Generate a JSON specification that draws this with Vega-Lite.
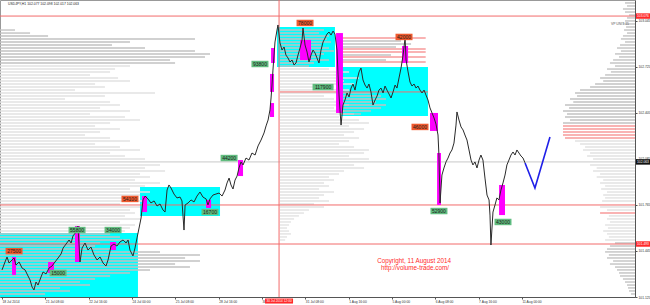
{
"$schema":"https://vega.github.io/schema/vega-lite/v6.json",
"width":635,"height":297,
"autosize":{"type":"none"},
"padding":{"left":0,"top":0,"right":15,"bottom":8},
"background":"white",
"config":{"view":{"stroke":"#999","strokeWidth":1}},
"datasets":{
"box":[{"a":-1.5,"b":100.4,"p1":101.569,"p2":101.125},{"a":101.9,"b":161,"p1":101.889,"p2":101.688},{"a":203.1,"b":245.9,"p1":103.0,"p2":102.722},{"a":250.4,"b":314.6,"p1":102.722,"p2":102.382}],
"mag":[{"a":7.4,"b":10.3,"p1":101.403,"p2":101.278},{"a":34,"b":38.4,"p1":101.368,"p2":101.292},{"a":53.9,"b":57.6,"p1":101.618,"p2":101.368},{"a":79.8,"b":84.2,"p1":101.507,"p2":101.451},{"a":103.4,"b":107.1,"p1":101.826,"p2":101.715},{"a":150.7,"b":154.4,"p1":101.799,"p2":101.743},{"a":174.3,"b":178,"p1":102.076,"p2":101.965},{"a":197.9,"b":200.9,"p1":102.472,"p2":102.375},{"a":197.9,"b":200.9,"p1":102.674,"p2":102.549},{"a":198.7,"b":201.6,"p1":102.854,"p2":102.75},{"a":220.1,"b":228.2,"p1":102.91,"p2":102.771},{"a":246.7,"b":251.8,"p1":102.958,"p2":102.403},{"a":295.4,"b":299.9,"p1":102.868,"p2":102.75},{"a":316.1,"b":322,"p1":102.403,"p2":102.278},{"a":321.3,"b":324.2,"p1":102.125,"p2":101.764},{"a":367.1,"b":371.5,"p1":101.903,"p2":101.694}],
"lv":[{"a":-1.5,"b":467.5,"p":103.076,"k":"R"},{"a":-1.5,"b":467.5,"p":101.764,"k":"R"},{"a":-1.5,"b":467.5,"p":101.493,"k":"R"},{"a":205.3,"b":314.6,"p":102.549,"k":"R"},{"a":-1.5,"b":467.5,"p":102.063,"k":"G"}],
"cross":[{"h":204.6,"t":"30 Jul 2014 12:00"}],
"prof":[
{"p":102.979,"a":-1.5,"b":9.6,"k":"d"},{"p":102.958,"a":-1.5,"b":20.7,"k":"d"},{"p":102.938,"a":-1.5,"b":34,"k":"d"},{"p":102.917,"a":-1.5,"b":142.5,"k":"d"},{"p":102.896,"a":-1.5,"b":94.5,"k":"d"},{"p":102.875,"a":-1.5,"b":81.2,"k":"d"},{"p":102.854,"a":-1.5,"b":105.6,"k":"d"},{"p":102.833,"a":-1.5,"b":142.5,"k":"d"},{"p":102.813,"a":-1.5,"b":153.6,"k":"d"},{"p":102.792,"a":-1.5,"b":149.9,"k":"d"},{"p":102.771,"a":-1.5,"b":124.1,"k":"d"},{"p":102.75,"a":-1.5,"b":127.8,"k":"d"},
{"p":102.729,"a":-1.5,"b":94.5,"k":"l"},{"p":102.708,"a":-1.5,"b":83.5,"k":"l"},{"p":102.688,"a":-1.5,"b":79.8,"k":"l"},{"p":102.667,"a":-1.5,"b":65,"k":"l"},{"p":102.646,"a":-1.5,"b":85.7,"k":"l"},{"p":102.625,"a":-1.5,"b":94.5,"k":"l"},{"p":102.604,"a":-1.5,"b":68.7,"k":"l"},{"p":102.583,"a":-1.5,"b":76,"k":"l"},{"p":102.563,"a":-1.5,"b":53.9,"k":"l"},{"p":102.542,"a":-1.5,"b":113,"k":"l"},{"p":102.521,"a":-1.5,"b":76,"k":"l"},{"p":102.5,"a":-1.5,"b":46.5,"k":"l"},{"p":102.479,"a":-1.5,"b":79.8,"k":"l"},{"p":102.458,"a":-1.5,"b":87.1,"k":"l"},{"p":102.438,"a":-1.5,"b":72.4,"k":"l"},{"p":102.417,"a":-1.5,"b":94.5,"k":"l"},{"p":102.396,"a":-1.5,"b":65,"k":"l"},{"p":102.375,"a":-1.5,"b":90.8,"k":"l"},{"p":102.354,"a":-1.5,"b":101.9,"k":"l"},{"p":102.333,"a":-1.5,"b":79.8,"k":"l"},{"p":102.313,"a":-1.5,"b":68.7,"k":"l"},{"p":102.292,"a":-1.5,"b":87.1,"k":"l"},{"p":102.271,"a":-1.5,"b":72.4,"k":"l"},{"p":102.25,"a":-1.5,"b":61.3,"k":"l"},{"p":102.229,"a":-1.5,"b":79.8,"k":"l"},{"p":102.208,"a":-1.5,"b":94.5,"k":"l"},{"p":102.188,"a":-1.5,"b":68.7,"k":"l"},{"p":102.167,"a":-1.5,"b":87.1,"k":"l"},{"p":102.146,"a":-1.5,"b":101.9,"k":"l"},{"p":102.125,"a":-1.5,"b":79.8,"k":"l"},{"p":102.104,"a":-1.5,"b":90.8,"k":"l"},{"p":102.083,"a":-1.5,"b":105.6,"k":"l"},{"p":102.042,"a":-1.5,"b":116.7,"k":"l"},{"p":102.021,"a":-1.5,"b":105.6,"k":"l"},{"p":102.0,"a":-1.5,"b":120.4,"k":"l"},{"p":101.979,"a":-1.5,"b":101.9,"k":"l"},{"p":101.958,"a":-1.5,"b":109.3,"k":"l"},{"p":101.938,"a":-1.5,"b":98.2,"k":"l"},{"p":101.917,"a":-1.5,"b":116.7,"k":"l"},{"p":101.896,"a":-1.5,"b":105.6,"k":"l"},{"p":101.875,"a":-1.5,"b":94.5,"k":"l"},{"p":101.854,"a":-1.5,"b":109.3,"k":"l"},{"p":101.833,"a":-1.5,"b":101.9,"k":"l"},{"p":101.813,"a":-1.5,"b":98.2,"k":"l"},{"p":101.792,"a":-1.5,"b":105.6,"k":"l"},{"p":101.771,"a":-1.5,"b":87.1,"k":"l"},{"p":101.75,"a":-1.5,"b":101.9,"k":"l"},{"p":101.729,"a":-1.5,"b":94.5,"k":"l"},{"p":101.708,"a":-1.5,"b":98.2,"k":"l"},{"p":101.688,"a":-1.5,"b":90.8,"k":"l"},{"p":101.667,"a":-1.5,"b":101.9,"k":"l"},{"p":101.646,"a":-1.5,"b":87.1,"k":"l"},{"p":101.625,"a":-1.5,"b":98.2,"k":"l"},{"p":101.604,"a":-1.5,"b":94.5,"k":"l"},{"p":101.583,"a":-1.5,"b":90.8,"k":"l"},
{"p":101.563,"a":-1.5,"b":79.8,"k":"d"},{"p":101.542,"a":-1.5,"b":87.1,"k":"d"},{"p":101.521,"a":-1.5,"b":94.5,"k":"d"},{"p":101.5,"a":-1.5,"b":72.4,"k":"d"},{"p":101.479,"a":-1.5,"b":68.7,"k":"d"},{"p":101.458,"a":-1.5,"b":83.5,"k":"d"},{"p":101.438,"a":-1.5,"b":116.7,"k":"d"},{"p":101.417,"a":-1.5,"b":146.2,"k":"d"},{"p":101.396,"a":-1.5,"b":135.2,"k":"d"},{"p":101.375,"a":-1.5,"b":146.2,"k":"d"},{"p":101.354,"a":-1.5,"b":127.8,"k":"d"},{"p":101.333,"a":-1.5,"b":138.8,"k":"d"},{"p":101.313,"a":-1.5,"b":109.3,"k":"d"},{"p":101.292,"a":-1.5,"b":94.5,"k":"d"},{"p":101.271,"a":-1.5,"b":79.8,"k":"d"},{"p":101.25,"a":-1.5,"b":68.7,"k":"d"},{"p":101.229,"a":-1.5,"b":57.6,"k":"d"},{"p":101.208,"a":-1.5,"b":65,"k":"d"},{"p":101.188,"a":-1.5,"b":42.8,"k":"d"},{"p":101.167,"a":-1.5,"b":50.2,"k":"d"},{"p":101.146,"a":-1.5,"b":31.8,"k":"d"},
{"p":102.979,"a":205.3,"b":237.8,"k":"d"},{"p":102.958,"a":205.3,"b":234.2,"k":"d"},{"p":102.938,"a":205.3,"b":241.5,"k":"d"},{"p":102.917,"a":205.3,"b":240,"k":"d"},{"p":102.896,"a":205.3,"b":243,"k":"d"},{"p":102.875,"a":205.3,"b":235.6,"k":"d"},{"p":102.854,"a":205.3,"b":241.5,"k":"d"},{"p":102.833,"a":205.3,"b":245.2,"k":"d"},{"p":102.813,"a":205.3,"b":237.8,"k":"d"},{"p":102.792,"a":205.3,"b":234.2,"k":"d"},{"p":102.771,"a":205.3,"b":241.5,"k":"d"},{"p":102.75,"a":205.3,"b":230.4,"k":"d"},{"p":102.729,"a":205.3,"b":226.7,"k":"d"},
{"p":102.708,"a":205.3,"b":241.5,"k":"l"},{"p":102.688,"a":205.3,"b":256.3,"k":"l"},{"p":102.667,"a":205.3,"b":248.9,"k":"l"},{"p":102.646,"a":205.3,"b":263.7,"k":"l"},{"p":102.625,"a":205.3,"b":252.6,"k":"l"},{"p":102.604,"a":205.3,"b":260,"k":"l"},{"p":102.583,"a":205.3,"b":245.2,"k":"l"},{"p":102.563,"a":205.3,"b":256.3,"k":"l"},{"p":102.542,"a":205.3,"b":248.9,"k":"l"},{"p":102.521,"a":205.3,"b":237.8,"k":"l"},{"p":102.5,"a":205.3,"b":245.2,"k":"l"},{"p":102.479,"a":205.3,"b":248.9,"k":"l"},{"p":102.458,"a":205.3,"b":256.3,"k":"l"},{"p":102.438,"a":205.3,"b":245.2,"k":"l"},{"p":102.417,"a":205.3,"b":252.6,"k":"l"},{"p":102.396,"a":205.3,"b":260,"k":"l"},{"p":102.375,"a":205.3,"b":248.9,"k":"l"},{"p":102.354,"a":205.3,"b":263.7,"k":"l"},{"p":102.333,"a":205.3,"b":271,"k":"l"},{"p":102.313,"a":205.3,"b":256.3,"k":"l"},{"p":102.292,"a":205.3,"b":267.4,"k":"l"},{"p":102.271,"a":205.3,"b":260,"k":"l"},{"p":102.25,"a":205.3,"b":252.6,"k":"l"},{"p":102.229,"a":205.3,"b":263.7,"k":"l"},{"p":102.208,"a":205.3,"b":256.3,"k":"l"},{"p":102.188,"a":205.3,"b":248.9,"k":"l"},{"p":102.167,"a":205.3,"b":260,"k":"l"},{"p":102.146,"a":205.3,"b":271,"k":"l"},{"p":102.125,"a":205.3,"b":267.4,"k":"l"},{"p":102.104,"a":205.3,"b":256.3,"k":"l"},{"p":102.083,"a":205.3,"b":271,"k":"l"},{"p":102.042,"a":205.3,"b":260,"k":"l"},{"p":102.021,"a":205.3,"b":267.4,"k":"l"},{"p":102.0,"a":205.3,"b":252.6,"k":"l"},{"p":101.979,"a":205.3,"b":248.9,"k":"l"},{"p":101.958,"a":205.3,"b":241.5,"k":"l"},{"p":101.938,"a":205.3,"b":245.2,"k":"l"},{"p":101.917,"a":205.3,"b":237.8,"k":"l"},{"p":101.896,"a":205.3,"b":241.5,"k":"l"},{"p":101.875,"a":205.3,"b":234.2,"k":"l"},{"p":101.854,"a":205.3,"b":245.2,"k":"l"},{"p":101.833,"a":205.3,"b":237.8,"k":"l"},{"p":101.813,"a":205.3,"b":234.2,"k":"l"},{"p":101.792,"a":205.3,"b":241.5,"k":"l"},{"p":101.771,"a":205.3,"b":230.4,"k":"l"},{"p":101.75,"a":205.3,"b":237.8,"k":"l"},{"p":101.729,"a":205.3,"b":226.7,"k":"l"},{"p":101.708,"a":205.3,"b":223,"k":"l"},{"p":101.688,"a":205.3,"b":219.3,"k":"l"},{"p":101.667,"a":205.3,"b":215.7,"k":"l"},{"p":101.646,"a":205.3,"b":213.4,"k":"l"},{"p":101.625,"a":205.3,"b":212,"k":"l"},{"p":101.604,"a":205.3,"b":210.5,"k":"l"},{"p":101.583,"a":205.3,"b":212,"k":"l"},{"p":101.563,"a":205.3,"b":213.4,"k":"l"},{"p":101.542,"a":205.3,"b":210.5,"k":"l"},{"p":101.521,"a":205.3,"b":209.1,"k":"l"},
{"p":102.924,"a":250.4,"b":312.9,"k":"r"},{"p":102.903,"a":250.4,"b":294.7,"k":"d"},{"p":102.882,"a":250.4,"b":302.1,"k":"d"},{"p":102.861,"a":250.4,"b":291,"k":"d"},{"p":102.847,"a":250.4,"b":312.9,"k":"r"},{"p":102.826,"a":250.4,"b":312.9,"k":"r"},{"p":102.806,"a":250.4,"b":287.3,"k":"d"},{"p":102.792,"a":250.4,"b":312.9,"k":"r"},{"p":102.771,"a":250.4,"b":283.6,"k":"d"},{"p":102.757,"a":250.4,"b":312.9,"k":"r"},
{"p":102.542,"a":250.4,"b":272.5,"k":"d"},{"p":102.521,"a":250.4,"b":279.9,"k":"d"},{"p":102.5,"a":250.4,"b":283.6,"k":"d"},{"p":102.479,"a":250.4,"b":276.2,"k":"d"},{"p":102.458,"a":250.4,"b":283.6,"k":"d"},{"p":102.438,"a":250.4,"b":279.9,"k":"d"},{"p":102.417,"a":250.4,"b":272.5,"k":"d"},{"p":102.396,"a":250.4,"b":265.1,"k":"d"},
{"p":103.167,"a":460.1,"b":467.5,"k":"d"},{"p":103.146,"a":461.6,"b":467.5,"k":"d"},{"p":103.125,"a":458.6,"b":467.5,"k":"d"},{"p":103.104,"a":460.1,"b":467.5,"k":"d"},{"p":103.083,"a":463.1,"b":467.5,"k":"d"},{"p":103.063,"a":461.6,"b":467.5,"k":"d"},{"p":103.042,"a":460.1,"b":467.5,"k":"d"},{"p":103.021,"a":458.6,"b":467.5,"k":"d"},{"p":103.0,"a":460.9,"b":467.5,"k":"d"},{"p":102.979,"a":459.4,"b":467.5,"k":"d"},{"p":102.958,"a":461.6,"b":467.5,"k":"d"},{"p":102.938,"a":458.6,"b":467.5,"k":"d"},{"p":102.917,"a":457.1,"b":467.5,"k":"d"},{"p":102.896,"a":460.1,"b":467.5,"k":"d"},{"p":102.875,"a":456.4,"b":467.5,"k":"d"},{"p":102.854,"a":454.2,"b":467.5,"k":"d"},{"p":102.833,"a":457.1,"b":467.5,"k":"d"},{"p":102.813,"a":452.7,"b":467.5,"k":"d"},{"p":102.792,"a":455.7,"b":467.5,"k":"d"},{"p":102.771,"a":451.3,"b":467.5,"k":"d"},{"p":102.75,"a":449,"b":467.5,"k":"d"},{"p":102.729,"a":452.7,"b":467.5,"k":"d"},{"p":102.708,"a":446.8,"b":467.5,"k":"d"},{"p":102.688,"a":449.7,"b":467.5,"k":"d"},{"p":102.667,"a":445.4,"b":467.5,"k":"d"},{"p":102.646,"a":441.7,"b":467.5,"k":"d"},{"p":102.625,"a":444,"b":467.5,"k":"d"},{"p":102.604,"a":438,"b":467.5,"k":"d"},{"p":102.583,"a":434.3,"b":467.5,"k":"d"},{"p":102.563,"a":426.9,"b":467.5,"k":"d"},{"p":102.542,"a":423.2,"b":467.5,"k":"d"},{"p":102.521,"a":424.7,"b":467.5,"k":"d"},{"p":102.5,"a":419.5,"b":467.5,"k":"d"},{"p":102.479,"a":421.9,"b":467.5,"k":"d"},{"p":102.458,"a":415.8,"b":467.5,"k":"d"},{"p":102.438,"a":418.8,"b":467.5,"k":"d"},{"p":102.417,"a":414.3,"b":467.5,"k":"d"},{"p":102.396,"a":417.3,"b":467.5,"k":"d"},{"p":102.375,"a":415.8,"b":467.5,"k":"d"},{"p":102.354,"a":419.5,"b":467.5,"k":"d"},{"p":102.333,"a":414.3,"b":467.5,"k":"d"},
{"p":102.313,"a":414.3,"b":467.5,"k":"r"},{"p":102.292,"a":414.3,"b":467.5,"k":"r"},{"p":102.271,"a":414.3,"b":467.5,"k":"r"},{"p":102.25,"a":414.3,"b":467.5,"k":"r"},{"p":102.229,"a":415.8,"b":467.5,"k":"r"},
{"p":102.208,"a":423.2,"b":467.5,"k":"l"},{"p":102.188,"a":426.9,"b":467.5,"k":"l"},{"p":102.167,"a":430.6,"b":467.5,"k":"l"},{"p":102.146,"a":429.1,"b":467.5,"k":"l"},{"p":102.125,"a":434.3,"b":467.5,"k":"l"},{"p":102.104,"a":432.1,"b":467.5,"k":"l"},{"p":102.083,"a":436.5,"b":467.5,"k":"l"},{"p":102.042,"a":434.3,"b":467.5,"k":"l"},{"p":102.021,"a":439.2,"b":467.5,"k":"l"},{"p":102.0,"a":436.5,"b":467.5,"k":"l"},{"p":101.979,"a":441.7,"b":467.5,"k":"l"},{"p":101.958,"a":439.2,"b":467.5,"k":"l"},{"p":101.938,"a":444,"b":467.5,"k":"l"},{"p":101.917,"a":441.7,"b":467.5,"k":"l"},{"p":101.896,"a":445.4,"b":467.5,"k":"l"},{"p":101.875,"a":442.5,"b":467.5,"k":"l"},{"p":101.854,"a":446.8,"b":467.5,"k":"l"},{"p":101.833,"a":444,"b":467.5,"k":"l"},{"p":101.813,"a":445.4,"b":467.5,"k":"l"},{"p":101.792,"a":443.2,"b":467.5,"k":"l"},{"p":101.75,"a":441.7,"b":467.5,"k":"l"},{"p":101.729,"a":446.8,"b":467.5,"k":"l"},{"p":101.708,"a":441.7,"b":467.5,"k":"r"},{"p":101.688,"a":448.2,"b":467.5,"k":"l"},{"p":101.667,"a":446.8,"b":467.5,"k":"l"},{"p":101.646,"a":449,"b":467.5,"k":"l"},{"p":101.625,"a":445.4,"b":467.5,"k":"l"},{"p":101.604,"a":447.5,"b":467.5,"k":"l"},{"p":101.583,"a":444,"b":467.5,"k":"l"},{"p":101.563,"a":446.8,"b":467.5,"k":"l"},{"p":101.542,"a":448.2,"b":467.5,"k":"l"},{"p":101.521,"a":445.4,"b":467.5,"k":"l"},
{"p":101.5,"a":452.7,"b":467.5,"k":"d"},{"p":101.479,"a":449,"b":467.5,"k":"d"},{"p":101.458,"a":446.8,"b":467.5,"k":"d"},{"p":101.438,"a":445.4,"b":467.5,"k":"d"},{"p":101.417,"a":448.2,"b":467.5,"k":"d"},{"p":101.396,"a":446.8,"b":467.5,"k":"d"},{"p":101.375,"a":451.3,"b":467.5,"k":"d"},{"p":101.354,"a":449,"b":467.5,"k":"d"},{"p":101.333,"a":452.7,"b":467.5,"k":"d"},{"p":101.313,"a":454.2,"b":467.5,"k":"d"},{"p":101.292,"a":455.7,"b":467.5,"k":"d"},{"p":101.271,"a":456.4,"b":467.5,"k":"d"},{"p":101.25,"a":458.6,"b":467.5,"k":"d"},{"p":101.229,"a":460.1,"b":467.5,"k":"d"},{"p":101.208,"a":461.6,"b":467.5,"k":"d"},{"p":101.188,"a":462.3,"b":467.5,"k":"d"},{"p":101.167,"a":463.1,"b":467.5,"k":"d"},{"p":101.146,"a":464.5,"b":467.5,"k":"d"}
],
"px":[{"h":0,"p":101.313},{"h":2.2,"p":101.368},{"h":3.7,"p":101.403},{"h":5.2,"p":101.361},{"h":7.4,"p":101.382},{"h":8.9,"p":101.396},{"h":10.3,"p":101.347},{"h":12.6,"p":101.368},{"h":14.8,"p":101.326},{"h":17,"p":101.313},{"h":19.2,"p":101.271},{"h":20.7,"p":101.243},{"h":22.2,"p":101.194},{"h":23.6,"p":101.174},{"h":25.1,"p":101.229},{"h":26.6,"p":101.208},{"h":28.8,"p":101.264},{"h":30.3,"p":101.299},{"h":32.5,"p":101.285},{"h":34.7,"p":101.326},{"h":36.9,"p":101.34},{"h":39.1,"p":101.368},{"h":41.4,"p":101.396},{"h":43.6,"p":101.424},{"h":45.1,"p":101.465},{"h":47.3,"p":101.493},{"h":49.5,"p":101.521},{"h":51,"p":101.5},{"h":52.4,"p":101.549},{"h":54.7,"p":101.576},{"h":56.1,"p":101.618},{"h":57.6,"p":101.368},{"h":59.1,"p":101.465},{"h":61.3,"p":101.5},{"h":63.5,"p":101.451},{"h":65.7,"p":101.472},{"h":67.9,"p":101.417},{"h":70.2,"p":101.382},{"h":72.4,"p":101.403},{"h":74.6,"p":101.361},{"h":76.8,"p":101.34},{"h":78.3,"p":101.382},{"h":80.5,"p":101.479},{"h":82.7,"p":101.493},{"h":84.9,"p":101.479},{"h":87.1,"p":101.507},{"h":89.4,"p":101.521},{"h":91.6,"p":101.5},{"h":93.1,"p":101.521},{"h":94.5,"p":101.451},{"h":96.7,"p":101.41},{"h":98.2,"p":101.465},{"h":99.7,"p":101.535},{"h":101.2,"p":101.604},{"h":102.7,"p":101.674},{"h":104.1,"p":101.799},{"h":105.6,"p":101.826},{"h":107.8,"p":101.806},{"h":110,"p":101.778},{"h":112.3,"p":101.792},{"h":114.5,"p":101.757},{"h":116.7,"p":101.771},{"h":118.9,"p":101.729},{"h":120.4,"p":101.715},{"h":121.9,"p":101.868},{"h":123.3,"p":101.903},{"h":124.8,"p":101.882},{"h":127,"p":101.84},{"h":129.2,"p":101.813},{"h":131.5,"p":101.819},{"h":132.9,"p":101.792},{"h":134.4,"p":101.59},{"h":135.2,"p":101.764},{"h":137.4,"p":101.778},{"h":139.6,"p":101.799},{"h":141.8,"p":101.785},{"h":144,"p":101.826},{"h":146.2,"p":101.854},{"h":148.4,"p":101.819},{"h":150.7,"p":101.806},{"h":152.1,"p":101.764},{"h":153.6,"p":101.806},{"h":155.8,"p":101.833},{"h":158,"p":101.84},{"h":160.3,"p":101.847},{"h":162.5,"p":101.826},{"h":164.7,"p":101.868},{"h":166.2,"p":101.917},{"h":167.7,"p":101.951},{"h":169.1,"p":101.903},{"h":170.6,"p":101.875},{"h":172.1,"p":101.937},{"h":173.6,"p":101.965},{"h":175,"p":102.021},{"h":176.5,"p":102.063},{"h":178,"p":102.042},{"h":180.2,"p":102.09},{"h":182.4,"p":102.076},{"h":184.6,"p":102.125},{"h":186.9,"p":102.111},{"h":189.1,"p":102.174},{"h":191.3,"p":102.215},{"h":193.5,"p":102.264},{"h":195,"p":102.313},{"h":196.5,"p":102.354},{"h":197.9,"p":102.424},{"h":198.7,"p":102.507},{"h":199.4,"p":102.597},{"h":200.1,"p":102.701},{"h":200.9,"p":102.805},{"h":201.6,"p":102.896},{"h":203.1,"p":102.979},{"h":203.8,"p":103.014},{"h":205.3,"p":102.889},{"h":206.8,"p":102.84},{"h":208.3,"p":102.861},{"h":209.7,"p":102.805},{"h":211.2,"p":102.785},{"h":212.7,"p":102.757},{"h":214.2,"p":102.771},{"h":215.7,"p":102.736},{"h":217.1,"p":102.75},{"h":218.6,"p":102.805},{"h":220.1,"p":102.854},{"h":221.6,"p":102.91},{"h":222.3,"p":102.993},{"h":223.8,"p":102.875},{"h":225.3,"p":102.826},{"h":226.7,"p":102.757},{"h":228.2,"p":102.805},{"h":229.7,"p":102.84},{"h":231.2,"p":102.819},{"h":232.6,"p":102.785},{"h":234.1,"p":102.75},{"h":235.6,"p":102.84},{"h":237.1,"p":102.896},{"h":238.6,"p":102.924},{"h":240,"p":102.951},{"h":241.5,"p":102.965},{"h":243,"p":102.944},{"h":244.5,"p":102.972},{"h":245.9,"p":102.951},{"h":247.4,"p":102.84},{"h":248.2,"p":102.667},{"h":248.9,"p":102.528},{"h":249.6,"p":102.424},{"h":250.4,"p":102.319},{"h":251.8,"p":102.458},{"h":253.3,"p":102.493},{"h":254.8,"p":102.542},{"h":256.3,"p":102.514},{"h":257.8,"p":102.576},{"h":259.2,"p":102.604},{"h":260.7,"p":102.562},{"h":262.2,"p":102.632},{"h":263.7,"p":102.688},{"h":265.1,"p":102.715},{"h":266.6,"p":102.632},{"h":268.1,"p":102.597},{"h":269.6,"p":102.576},{"h":271,"p":102.604},{"h":272.5,"p":102.549},{"h":274,"p":102.458},{"h":275.5,"p":102.493},{"h":277,"p":102.521},{"h":278.4,"p":102.562},{"h":279.9,"p":102.576},{"h":281.4,"p":102.542},{"h":282.9,"p":102.59},{"h":284.3,"p":102.562},{"h":285.8,"p":102.535},{"h":287.3,"p":102.507},{"h":288.8,"p":102.549},{"h":290.3,"p":102.597},{"h":291.7,"p":102.576},{"h":293.2,"p":102.646},{"h":294.7,"p":102.715},{"h":296.2,"p":102.805},{"h":297.7,"p":102.924},{"h":298.4,"p":102.771},{"h":299.9,"p":102.688},{"h":301.3,"p":102.618},{"h":302.8,"p":102.59},{"h":304.3,"p":102.604},{"h":305.8,"p":102.576},{"h":307.2,"p":102.59},{"h":308.7,"p":102.562},{"h":310.2,"p":102.542},{"h":311.7,"p":102.562},{"h":313.1,"p":102.528},{"h":314.6,"p":102.493},{"h":316.1,"p":102.438},{"h":317.6,"p":102.403},{"h":319.1,"p":102.368},{"h":320.5,"p":102.326},{"h":322,"p":102.25},{"h":322.7,"p":102.111},{"h":323.5,"p":101.778},{"h":324.9,"p":101.972},{"h":326.4,"p":102.021},{"h":327.9,"p":102.063},{"h":329.4,"p":102.09},{"h":330.9,"p":102.125},{"h":332.3,"p":102.146},{"h":333.8,"p":102.194},{"h":335.3,"p":102.319},{"h":336,"p":102.41},{"h":337.5,"p":102.354},{"h":339,"p":102.306},{"h":340.5,"p":102.285},{"h":341.9,"p":102.25},{"h":343.4,"p":102.215},{"h":344.9,"p":102.146},{"h":346.4,"p":102.076},{"h":347.8,"p":102.042},{"h":349.3,"p":102.063},{"h":350.8,"p":102.021},{"h":352.3,"p":102.076},{"h":353.7,"p":102.111},{"h":355.2,"p":102.076},{"h":356.7,"p":101.951},{"h":358.2,"p":101.833},{"h":359.7,"p":101.799},{"h":360.4,"p":101.694},{"h":361.1,"p":101.486},{"h":362.6,"p":101.715},{"h":364.1,"p":101.764},{"h":365.5,"p":101.813},{"h":367,"p":101.799},{"h":368.5,"p":101.868},{"h":370,"p":101.917},{"h":371.5,"p":101.972},{"h":372.9,"p":102.042},{"h":374.4,"p":102.076},{"h":375.9,"p":102.111},{"h":377.4,"p":102.132},{"h":378.9,"p":102.111},{"h":380.3,"p":102.146},{"h":381.8,"p":102.125},{"h":383.3,"p":102.104},{"h":384.8,"p":102.09},{"h":386.3,"p":102.056}],
"proj":[{"h":386.3,"p":102.056},{"h":393.6,"p":101.882},{"h":404.7,"p":102.236}],
"lab":[{"h":8.9,"p":101.444,"t":"27500","k":"dn"},{"h":55.4,"p":101.59,"t":"55800","k":"up"},{"h":82,"p":101.59,"t":"34000","k":"up"},{"h":41.4,"p":101.292,"t":"15000","k":"up"},{"h":94.5,"p":101.806,"t":"54100","k":"dn"},{"h":153.6,"p":101.715,"t":"16700","k":"up"},{"h":167.7,"p":102.09,"t":"44200","k":"up"},{"h":190.5,"p":102.743,"t":"93800","k":"up"},{"h":237.1,"p":102.583,"t":"117900","k":"up"},{"h":223.8,"p":103.028,"t":"78000","k":"dn"},{"h":296.9,"p":102.931,"t":"42000","k":"dn"},{"h":308.7,"p":102.306,"t":"46000","k":"dn"},{"h":322.7,"p":101.722,"t":"52900","k":"up"},{"h":370,"p":101.646,"t":"43000","k":"up"}],
"ax":[{"p":103.076,"t":"103.076","k":"r"},{"p":102.063,"t":"102.063","k":"b"},{"p":101.493,"t":"101.493","k":"r"}],
"note":[{"h":304.3,"p":101.375,"t":"Copyright, 11 August 2014"},{"h":305,"p":101.326,"t":"http://volume-trade.com/"}],
"head":[{"h":4.4,"p":103.16,"t":"USDJPY,H1  102.077 102.098 102.017 102.063"}],
"vp":[{"h":463,"p":103.021,"t":"VP UNIT 15"}]
},
"layer":[
{"data":{"name":"box"},"mark":{"type":"rect","color":"#00ffff"},
 "encoding":{
  "x":{"field":"a","type":"quantitative","title":null,"scale":{"domain":[-1.5,467.5],"nice":false,"zero":false},
   "axis":{"values":[0,16,32,48,64,80,96,112,128,144,160,176,192,208,224,240,256,272,288,304,320,336,352,368,384],
    "labelExpr":"['18 Jul 2014','18 Jul 16:00','21 Jul 08:00','22 Jul 00:00','22 Jul 16:00','23 Jul 08:00','24 Jul 00:00','24 Jul 16:00','25 Jul 08:00','28 Jul 00:00','28 Jul 16:00','29 Jul 08:00','30 Jul 00:00','30 Jul 16:00','31 Jul 08:00','1 Aug 00:00','1 Aug 16:00','4 Aug 08:00','5 Aug 00:00','5 Aug 16:00','6 Aug 08:00','7 Aug 00:00','7 Aug 16:00','8 Aug 08:00','11 Aug 00:00'][round(datum.value/16)]",
    "labelFont":"Liberation Sans","labelFontSize":3.3,"labelColor":"#333","labelAlign":"left","labelBaseline":"top","labelPadding":0.5,"tickSize":2,"tickColor":"#555","domainColor":"#555","grid":false,"labelOverlap":false,"labelFlush":false,"labelBound":false}},
  "x2":{"field":"b"},
  "y":{"field":"p1","type":"quantitative","title":null,"scale":{"domain":[101.125,103.1875],"nice":false,"zero":false},
   "axis":{"orient":"right","values":[101.125,101.205,101.285,101.365,101.445,101.525,101.605,101.685,101.765,101.845,101.925,102.005,102.085,102.165,102.245,102.325,102.405,102.485,102.565,102.645,102.725,102.805,102.885,102.965,103.045,103.125],
    "format":".3f","labelFont":"Liberation Sans","labelFontSize":3.3,"labelColor":"#333","labelAlign":"left","labelPadding":1,"tickSize":2,"tickColor":"#555","domainColor":"#555","grid":false,"labelOverlap":false,"labelFlush":false,"labelBound":false}},
  "y2":{"field":"p2"}}},
{"data":{"name":"prof"},"mark":{"type":"rule","strokeWidth":1.4},
 "encoding":{"x":{"field":"a","type":"quantitative","title":null,"scale":{"domain":[-1.5,467.5],"nice":false,"zero":false}},"x2":{"field":"b"},
  "y":{"field":"p","type":"quantitative","title":null,"scale":{"domain":[101.125,103.1875],"nice":false,"zero":false}},
  "color":{"condition":[{"test":"datum.k=='d'","value":"#c2c2c2"},{"test":"datum.k=='r'","value":"#f79a9a"}],"value":"#e2e2e2"}}},
{"data":{"name":"lv"},"mark":{"type":"rule","strokeWidth":1},
 "encoding":{"x":{"field":"a","type":"quantitative","title":null,"scale":{"domain":[-1.5,467.5],"nice":false,"zero":false}},"x2":{"field":"b"},
  "y":{"field":"p","type":"quantitative","title":null,"scale":{"domain":[101.125,103.1875],"nice":false,"zero":false}},
  "color":{"condition":{"test":"datum.k=='G'","value":"#c8c8c8"},"value":"#f26b6b"}}},
{"data":{"name":"cross"},"mark":{"type":"rule","strokeWidth":1,"color":"#f26b6b"},
 "encoding":{"x":{"field":"h","type":"quantitative","title":null,"scale":{"domain":[-1.5,467.5],"nice":false,"zero":false}}}},
{"data":{"name":"mag"},"mark":{"type":"rect","color":"#ff00ff"},
 "encoding":{"x":{"field":"a","type":"quantitative","title":null,"scale":{"domain":[-1.5,467.5],"nice":false,"zero":false}},"x2":{"field":"b"},
  "y":{"field":"p1","type":"quantitative","title":null,"scale":{"domain":[101.125,103.1875],"nice":false,"zero":false}},"y2":{"field":"p2"}}},
{"data":{"name":"px"},"mark":{"type":"line","color":"#2a2a2a","strokeWidth":1},
 "encoding":{"x":{"field":"h","type":"quantitative","title":null,"scale":{"domain":[-1.5,467.5],"nice":false,"zero":false}},
  "y":{"field":"p","type":"quantitative","title":null,"scale":{"domain":[101.125,103.1875],"nice":false,"zero":false}}}},
{"data":{"name":"proj"},"mark":{"type":"line","color":"#2020e8","strokeWidth":1.6},
 "encoding":{"x":{"field":"h","type":"quantitative","title":null,"scale":{"domain":[-1.5,467.5],"nice":false,"zero":false}},
  "y":{"field":"p","type":"quantitative","title":null,"scale":{"domain":[101.125,103.1875],"nice":false,"zero":false}}}},
{"data":{"name":"lab"},"mark":{"type":"point","filled":true,"opacity":1,"strokeWidth":0},
 "encoding":{"x":{"field":"h","type":"quantitative","title":null,"scale":{"domain":[-1.5,467.5],"nice":false,"zero":false}},
  "y":{"field":"p","type":"quantitative","title":null,"scale":{"domain":[101.125,103.1875],"nice":false,"zero":false}},
  "shape":{"condition":{"test":"length(datum.t)>5","value":"M-1,-0.31H1V0.31H-1Z"},"value":"M-1,-0.38H1V0.38H-1Z"},
  "size":{"condition":{"test":"length(datum.t)>5","value":441},"value":289},
  "color":{"condition":{"test":"datum.k=='dn'","value":"#ef5a2f"},"value":"#62bd80"}}},
{"data":{"name":"lab"},"mark":{"type":"text","font":"Liberation Sans","fontSize":5,"color":"#1a1a1a","align":"center","baseline":"middle"},
 "encoding":{"x":{"field":"h","type":"quantitative","title":null,"scale":{"domain":[-1.5,467.5],"nice":false,"zero":false}},
  "y":{"field":"p","type":"quantitative","title":null,"scale":{"domain":[101.125,103.1875],"nice":false,"zero":false}},
  "text":{"field":"t"}}},
{"data":{"name":"note"},"mark":{"type":"text","font":"Liberation Sans","fontSize":6.3,"color":"#ff2b2b","align":"center","baseline":"middle"},
 "encoding":{"x":{"field":"h","type":"quantitative","title":null,"scale":{"domain":[-1.5,467.5],"nice":false,"zero":false}},
  "y":{"field":"p","type":"quantitative","title":null,"scale":{"domain":[101.125,103.1875],"nice":false,"zero":false}},
  "text":{"field":"t"}}},
{"data":{"name":"head"},"mark":{"type":"text","font":"Liberation Sans","fontSize":3.4,"color":"#222","align":"left","baseline":"middle"},
 "encoding":{"x":{"field":"h","type":"quantitative","title":null,"scale":{"domain":[-1.5,467.5],"nice":false,"zero":false}},
  "y":{"field":"p","type":"quantitative","title":null,"scale":{"domain":[101.125,103.1875],"nice":false,"zero":false}},
  "text":{"field":"t"}}},
{"data":{"name":"vp"},"mark":{"type":"text","font":"Liberation Sans","fontSize":3.4,"color":"#555","align":"right","baseline":"middle"},
 "encoding":{"x":{"field":"h","type":"quantitative","title":null,"scale":{"domain":[-1.5,467.5],"nice":false,"zero":false}},
  "y":{"field":"p","type":"quantitative","title":null,"scale":{"domain":[101.125,103.1875],"nice":false,"zero":false}},
  "text":{"field":"t"}}},
{"data":{"name":"ax"},"mark":{"type":"point","filled":true,"opacity":1,"strokeWidth":0,"shape":"M-1,-0.39H1V0.39H-1Z","size":196},
 "encoding":{"x":{"datum":473.4,"type":"quantitative","scale":{"domain":[-1.5,467.5],"nice":false,"zero":false}},
  "y":{"field":"p","type":"quantitative","title":null,"scale":{"domain":[101.125,103.1875],"nice":false,"zero":false}},
  "color":{"condition":{"test":"datum.k=='b'","value":"#111111"},"value":"#ff2a2a"}}},
{"data":{"name":"ax"},"mark":{"type":"text","font":"Liberation Sans","fontSize":3.3,"color":"#ffffff","align":"center","baseline":"middle"},
 "encoding":{"x":{"datum":473.4,"type":"quantitative","scale":{"domain":[-1.5,467.5],"nice":false,"zero":false}},
  "y":{"field":"p","type":"quantitative","title":null,"scale":{"domain":[101.125,103.1875],"nice":false,"zero":false}},
  "text":{"field":"t"}}},
{"data":{"name":"cross"},"mark":{"type":"point","filled":true,"opacity":1,"strokeWidth":0,"shape":"M-1,-0.18H1V0.18H-1Z","size":784,"color":"#ff2a2a"},
 "encoding":{"x":{"field":"h","type":"quantitative","title":null,"scale":{"domain":[-1.5,467.5],"nice":false,"zero":false}},
  "y":{"datum":101.097,"type":"quantitative","scale":{"domain":[101.125,103.1875],"nice":false,"zero":false}}}},
{"data":{"name":"cross"},"mark":{"type":"text","font":"Liberation Sans","fontSize":3.2,"color":"#ffffff","align":"center","baseline":"middle"},
 "encoding":{"x":{"field":"h","type":"quantitative","title":null,"scale":{"domain":[-1.5,467.5],"nice":false,"zero":false}},
  "y":{"datum":101.097,"type":"quantitative","scale":{"domain":[101.125,103.1875],"nice":false,"zero":false}},
  "text":{"field":"t"}}}
]
}
